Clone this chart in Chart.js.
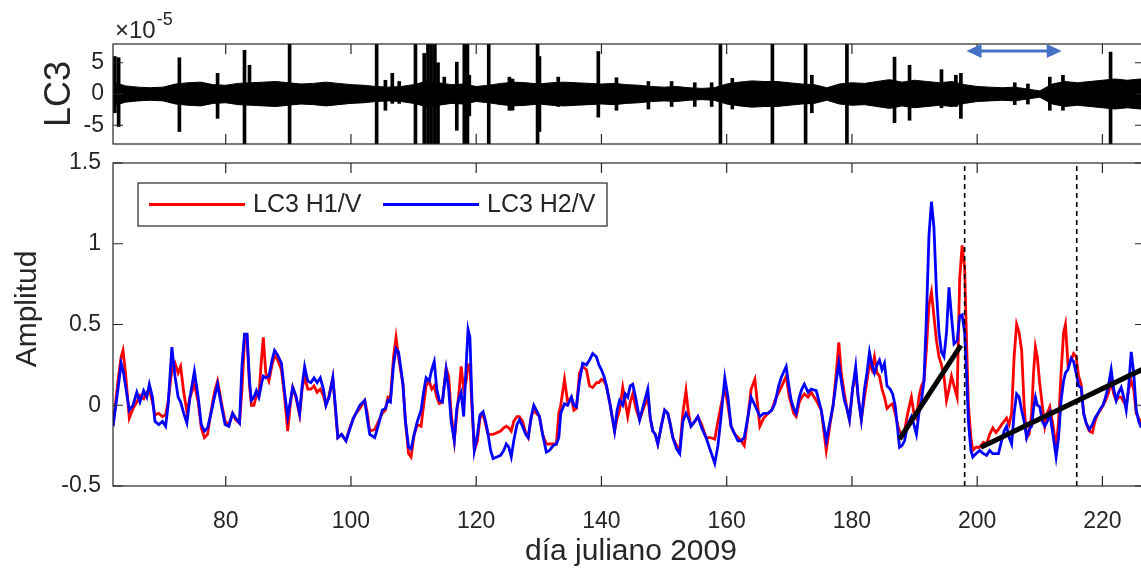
<!DOCTYPE html>
<html>
<head>
<meta charset="utf-8">
<script src="https://cdn.jsdelivr.net/npm/chart.js@4.4.0/dist/chart.umd.min.js"></script>
<style>
html, body { margin: 0; padding: 0; background: #fff; overflow: hidden; width: 1141px; height: 575px; }
#wrap { position: relative; width: 1150px; height: 575px; }
#top { position: absolute; left: 0; top: 0; }
#bottom { position: absolute; left: 0; top: 150px; }
</style>
</head>
<body>
<div id="wrap">
  <canvas id="top" width="1150" height="150"></canvas>
  <canvas id="bottom" width="1150" height="425"></canvas>
</div>
<script>
// axis ranges / ticks
var xMin = 62, xMax = 226.8;
var xTicks = [80, 100, 120, 140, 160, 180, 200, 220];
var lc3Ticks = [-5, 0, 5];
var ampTicks = [-0.5, 0, 0.5, 1, 1.5];

// amplitude ratios (dia juliano 2009)
var days = [62.0, 62.8, 63.3, 63.6, 64.0, 64.6, 65.2, 65.8, 66.3, 66.9,
  67.4, 67.8, 68.3, 68.7, 69.3, 69.9, 70.4, 70.8, 71.4, 71.9,
  72.4, 72.8, 73.3, 73.8, 74.3, 75.0, 75.6, 76.1, 76.6, 77.1,
  77.6, 78.2, 78.7, 79.3, 79.9, 80.5, 81.1, 81.6, 82.2, 82.6,
  83.0, 83.4, 83.8, 84.1, 84.5, 84.9, 85.3, 85.7, 86.0, 86.4,
  86.9, 87.4, 87.8, 88.3, 88.9, 89.4, 89.9, 90.3, 90.7, 91.2,
  91.8, 92.2, 92.6, 93.1, 93.6, 94.1, 94.6, 95.1, 95.6, 96.0,
  96.5, 97.1, 97.5, 97.9, 98.5, 99.2, 99.8, 100.4, 100.8, 101.4,
  102.2, 102.6, 103.0, 103.8, 104.4, 105.0, 105.5, 105.9, 106.3, 106.8,
  107.2, 107.6, 108.0, 108.3, 108.7, 109.2, 109.6, 110.1, 110.6, 111.2,
  111.6, 112.0, 112.5, 112.9, 113.3, 113.7, 114.1, 114.6, 115.2, 115.6,
  116.0, 116.5, 116.9, 117.3, 117.6, 118.0, 118.4, 118.7, 119.0, 119.3,
  119.7, 120.2, 120.6, 121.1, 121.5, 121.9, 122.3, 122.7, 123.3, 123.9,
  124.4, 124.8, 125.2, 125.6, 126.0, 126.5, 126.9, 127.4, 127.9, 128.3,
  128.8, 129.2, 129.6, 130.1, 130.6, 131.2, 131.7, 132.3, 132.8, 133.2,
  133.5, 134.1, 134.6, 135.2, 135.6, 136.0, 136.5, 137.0, 137.6, 138.1,
  138.6, 139.2, 139.6, 140.0, 140.4, 140.8, 141.4, 142.1, 142.5, 142.9,
  143.4, 143.8, 144.2, 144.6, 145.0, 145.5, 146.1, 146.7, 147.4, 147.8,
  148.2, 148.6, 149.0, 149.6, 150.1, 150.6, 151.0, 151.4, 152.0, 152.5,
  153.0, 153.5, 153.9, 154.3, 154.9, 155.4, 156.0, 156.7, 157.4, 158.1,
  158.6, 159.1, 159.7, 160.2, 160.7, 161.3, 161.8, 162.3, 162.8, 163.4,
  163.9, 164.5, 165.3, 165.9, 166.6, 167.2, 167.7, 168.3, 168.7, 169.5,
  170.0, 170.3, 170.7, 171.1, 171.6, 172.0, 172.4, 173.0, 173.5, 174.3,
  175.1, 175.9, 176.5, 177.0, 177.5, 177.9, 178.3, 178.8, 179.2, 179.6,
  180.1, 180.6, 181.0, 181.5, 182.0, 182.4, 182.8, 183.2, 183.6, 184.0,
  184.4, 184.8, 185.2, 185.6, 186.1, 186.5, 186.9, 187.3, 187.6, 188.0,
  188.4, 188.9, 189.5, 189.9, 190.3, 190.7, 191.1, 191.5, 191.9, 192.3,
  192.7, 193.1, 193.5, 193.9, 194.3, 194.7, 195.1, 195.5, 195.9, 196.3,
  196.8, 197.2, 197.6, 198.0, 198.3, 198.6, 199.0, 199.3, 199.8, 200.4,
  201.0, 201.5, 202.0, 202.5, 203.0, 203.4, 203.9, 204.3, 204.7, 205.1,
  205.5, 205.9, 206.3, 206.7, 207.1, 207.5, 207.9, 208.3, 208.7, 209.0,
  209.3, 209.6, 210.0, 210.4, 210.8, 211.2, 211.6, 212.1, 212.6, 213.0,
  213.4, 213.8, 214.1, 214.5, 215.0, 215.4, 215.8, 216.2, 216.6, 217.0,
  217.4, 217.9, 218.4, 218.8, 219.3, 219.7, 220.1, 220.5, 221.0, 221.4,
  221.8, 222.2, 222.6, 223.0, 223.4, 223.8, 224.2, 224.6, 225.0, 225.4,
  225.8, 226.1, 226.5];

var h1v = [-0.13, 0.15, 0.30, 0.34, 0.20, -0.08, -0.02, 0.02, 0.06, 0.04,
  0.08, 0.10, 0.02, -0.06, -0.05, -0.07, -0.06, 0.02, 0.22, 0.26,
  0.20, 0.24, 0.08, -0.04, 0.05, 0.13, 0.02, -0.14, -0.20, -0.18,
  -0.05, 0.08, 0.15, 0.02, -0.10, -0.12, -0.05, -0.09, -0.11, 0.10,
  0.40, 0.42, 0.12, 0.00, 0.00, 0.06, 0.06, 0.28, 0.42, 0.20,
  0.15, 0.25, 0.31, 0.28, 0.22, 0.05, -0.16, 0.00, 0.11, 0.05,
  -0.06, 0.10, 0.18, 0.10, 0.10, 0.12, 0.08, 0.10, 0.06, 0.00,
  0.06, 0.17, -0.02, -0.20, -0.18, -0.22, -0.14, -0.08, -0.05, -0.02,
  0.03, -0.05, -0.16, -0.15, -0.10, -0.05, -0.03, 0.05, 0.04, 0.30,
  0.42, 0.30, 0.20, 0.13, -0.10, -0.30, -0.32, -0.18, -0.12, -0.13,
  0.00, 0.12, 0.15, 0.10, 0.12, 0.05, 0.01, 0.02, 0.23, 0.18,
  -0.05, -0.22, -0.05, 0.10, 0.24, 0.10, 0.15, 0.25, 0.25, 0.00,
  -0.28, -0.22, -0.08, -0.05, -0.12, -0.18, -0.18, -0.18, -0.17, -0.16,
  -0.14, -0.13, -0.14, -0.16, -0.10, -0.07, -0.07, -0.10, -0.17, -0.20,
  -0.07, -0.03, -0.05, -0.07, -0.18, -0.24, -0.24, -0.24, -0.24, -0.05,
  0.00, 0.16, 0.02, 0.05, -0.03, -0.02, 0.20, 0.24, 0.22, 0.12,
  0.11, 0.14, 0.14, 0.16, 0.15, 0.12, 0.00, -0.16, -0.08, -0.03,
  0.11, 0.02, -0.07, 0.02, 0.07, -0.02, -0.09, -0.02, 0.05, -0.08,
  -0.16, -0.18, -0.24, -0.12, -0.03, -0.05, -0.12, -0.20, -0.25, -0.28,
  -0.05, 0.09, -0.05, -0.13, -0.10, -0.07, -0.12, -0.20, -0.20, -0.21,
  -0.10, 0.00, 0.11, 0.00, -0.13, -0.18, -0.20, -0.22, -0.25, -0.07,
  0.10, 0.16, -0.13, -0.08, -0.05, -0.03, 0.03, 0.08, 0.11, 0.18,
  0.05, 0.01, -0.05, -0.07, 0.02, 0.05, 0.07, 0.05, 0.08, 0.03,
  -0.03, -0.28, -0.12, 0.00, 0.20, 0.39, 0.20, 0.07, -0.02, -0.09,
  0.10, 0.20, 0.05, -0.09, 0.05, 0.15, 0.26, 0.22, 0.30, 0.20,
  0.18, 0.10, 0.05, -0.02, 0.00, 0.01, -0.05, -0.12, -0.16, -0.18,
  -0.16, -0.05, 0.05, -0.05, -0.08, 0.05, 0.12, 0.15, 0.35, 0.62,
  0.70, 0.55, 0.40, 0.30, 0.25, 0.18, 0.03, 0.10, 0.18, 0.12,
  0.05, 0.78, 0.99, 0.85, 0.40, 0.00, -0.20, -0.28, -0.26, -0.26,
  -0.23, -0.24, -0.18, -0.14, -0.17, -0.15, -0.12, -0.10, -0.08, -0.12,
  -0.05, 0.30, 0.50, 0.45, 0.34, 0.00, -0.20, -0.18, -0.05, 0.20,
  0.36, 0.30, 0.13, 0.00, -0.13, -0.05, -0.01, -0.12, -0.26, -0.10,
  0.20, 0.45, 0.50, 0.25, 0.28, 0.32, 0.30, 0.18, 0.13, -0.05,
  -0.11, -0.16, -0.17, -0.10, -0.05, -0.03, 0.00, 0.03, 0.08, 0.15,
  0.07, 0.03, 0.05, 0.05, 0.02, 0.00, 0.10, 0.15, 0.10, -0.05,
  -0.08, -0.10, -0.10];

var h2v = [-0.13, 0.10, 0.26, 0.22, 0.12, -0.03, 0.00, 0.08, 0.02, 0.09,
  0.05, 0.13, 0.05, -0.10, -0.12, -0.10, -0.13, 0.00, 0.36, 0.18,
  0.05, 0.02, -0.05, -0.11, 0.05, 0.21, 0.05, -0.12, -0.16, -0.14,
  -0.06, 0.05, 0.13, 0.00, -0.12, -0.13, -0.05, -0.08, -0.11, 0.25,
  0.44, 0.44, 0.15, 0.03, 0.05, 0.09, 0.05, 0.13, 0.18, 0.17,
  0.18, 0.28, 0.34, 0.31, 0.26, 0.08, -0.07, 0.02, 0.11, 0.06,
  -0.05, 0.12, 0.24, 0.15, 0.14, 0.17, 0.14, 0.17, 0.10, 0.00,
  0.05, 0.17, 0.00, -0.20, -0.18, -0.22, -0.15, -0.08, -0.05, 0.00,
  0.03, -0.08, -0.18, -0.20, -0.12, -0.03, -0.02, 0.03, 0.02, 0.25,
  0.35, 0.33, 0.22, 0.13, -0.10, -0.26, -0.27, -0.18, -0.10, -0.03,
  0.08, 0.17, 0.15, 0.22, 0.27, 0.10, 0.03, 0.02, 0.22, 0.10,
  -0.10, -0.22, -0.02, 0.05, 0.08, -0.07, 0.25, 0.47, 0.42, 0.05,
  -0.28, -0.18, -0.06, -0.04, -0.10, -0.18, -0.28, -0.33, -0.32, -0.31,
  -0.28, -0.24, -0.26, -0.32, -0.22, -0.12, -0.09, -0.13, -0.18, -0.20,
  -0.07, 0.00, -0.03, -0.07, -0.18, -0.29, -0.28, -0.25, -0.24, -0.20,
  -0.05, 0.01, 0.00, 0.05, 0.00, -0.01, 0.15, 0.26, 0.25, 0.28,
  0.32, 0.30, 0.25, 0.22, 0.18, 0.12, 0.00, -0.16, -0.03, 0.03,
  0.00, 0.07, 0.05, 0.12, 0.13, 0.04, -0.09, 0.00, 0.10, -0.08,
  -0.16, -0.18, -0.24, -0.12, -0.03, -0.05, -0.12, -0.20, -0.27, -0.30,
  -0.10, -0.05, -0.08, -0.13, -0.10, -0.07, -0.14, -0.20, -0.28, -0.36,
  -0.25, -0.07, 0.17, 0.05, -0.13, -0.18, -0.22, -0.22, -0.20, -0.07,
  0.05, 0.00, -0.07, -0.05, -0.05, -0.03, 0.01, 0.12, 0.17, 0.24,
  0.10, 0.03, -0.02, -0.05, 0.05, 0.10, 0.13, 0.08, 0.10, 0.09,
  -0.03, -0.22, -0.10, 0.00, 0.15, 0.26, 0.15, 0.03, -0.02, -0.09,
  0.10, 0.24, 0.05, -0.09, 0.10, 0.20, 0.33, 0.25, 0.20, 0.25,
  0.28, 0.22, 0.26, 0.12, 0.10, 0.07, 0.00, -0.15, -0.26, -0.25,
  -0.22, -0.12, -0.07, -0.12, -0.18, -0.05, 0.03, 0.15, 0.55, 1.05,
  1.26, 1.10, 0.70, 0.45, 0.33, 0.30, 0.45, 0.73, 0.55, 0.38,
  0.40, 0.55, 0.56, 0.45, 0.20, -0.10, -0.28, -0.32, -0.30, -0.28,
  -0.30, -0.31, -0.28, -0.30, -0.30, -0.30, -0.22, -0.16, -0.13, -0.20,
  -0.24, -0.05, 0.07, 0.05, -0.03, -0.10, -0.20, -0.15, -0.13, -0.02,
  0.05, 0.00, -0.01, -0.10, -0.13, -0.10, -0.05, -0.18, -0.32, -0.20,
  0.03, 0.15, 0.20, 0.22, 0.29, 0.27, 0.20, 0.12, 0.11, -0.05,
  -0.11, -0.15, -0.12, -0.08, -0.05, -0.02, 0.00, 0.05, 0.13, 0.22,
  0.10, 0.03, 0.08, 0.11, 0.05, -0.03, 0.12, 0.33, 0.20, -0.03,
  -0.10, -0.13, -0.13];

// trend lines and event markers
var fit1Days = [187.6, 197.4];
var fit1Amp = [-0.21, 0.37];
var fit2Days = [200.6, 226.8];
var fit2Amp = [-0.26, 0.23];
var eventDays = [198.0, 215.9];

// LC3 trace (x1e-5): envelope and spikes
var envDays = [62, 64, 66, 68, 70, 72, 74, 76, 78, 80,
  82, 84, 86, 88, 90, 92, 94, 96, 98, 100,
  102, 104, 106, 108, 110, 112, 114, 116, 118, 120,
  122, 124, 126, 128, 130, 132, 134, 136, 138, 140,
  142, 144, 146, 148, 150, 152, 154, 156, 158, 160,
  162, 164, 166, 168, 170, 172, 174, 176, 178, 180,
  182, 184, 186, 188, 190, 192, 194, 196, 198, 200,
  202, 204, 206, 208, 210, 212, 214, 216, 218, 220,
  222, 224, 226, 227];
var envAmp = [1.9, 1.3, 1.1, 1.0, 1.1, 1.6, 1.8, 1.9, 1.5, 1.4,
  1.7, 1.8, 1.9, 2.0, 1.8, 1.6, 1.7, 1.9, 1.7, 1.5,
  1.4, 1.2, 1.1, 1.2, 1.5, 2.0, 1.8, 1.5, 1.6, 1.2,
  1.4, 1.7, 1.9, 1.8, 1.6, 1.8, 1.9, 1.8, 1.7, 1.6,
  1.7, 1.5, 1.4, 1.2, 1.1, 1.2, 1.0, 0.9, 1.0, 1.6,
  1.9, 2.1, 2.0, 2.0, 1.8, 1.6, 1.5, 1.0, 1.6, 1.8,
  1.7, 2.0, 2.3, 1.9, 2.2, 2.0, 1.8, 2.0, 1.5, 1.2,
  1.1, 1.0, 1.1, 0.8, 0.5, 1.6, 2.0, 1.8, 2.0, 2.2,
  2.4, 2.2, 2.4, 2.3];
var spikeDays = [62.3, 62.9, 72.6, 78.7, 83.0, 83.8, 90.2, 104.1, 105.5, 106.6,
  107.7, 110.3, 111.7, 112.3, 112.8, 113.4, 113.9, 114.9, 116.9, 118.1,
  118.6, 118.9, 122.0, 125.3, 125.8, 129.8, 130.1, 133.1, 139.5, 142.4,
  147.5, 151.2, 154.9, 157.6, 159.0, 160.9, 167.3, 172.6, 173.6, 179.2,
  186.8, 189.2, 194.3, 196.6, 197.4, 206.0, 208.1, 211.6, 213.7, 221.3];
var spikeTop = [6.0, 5.8, 5.8, 3.3, 7.0, 4.6, 9, 9, 2.2, 3.3,
  2.0, 9, 6.5, 9, 9, 9, 5.0, 2.7, 5.1, 9,
  9, 3.0, 9, 2.7, 2.4, 9, 6.0, 2.7, 6.8, 2.6,
  2.0, 2.0, 1.8, 1.8, 9, 2.5, 9, 9, 3.0, 9,
  5.9, 4.6, 3.9, 3.0, 3.3, 1.8, 1.6, 2.7, 3.0, 6.7];
var spikeBottom = [-3.0, -5.2, -6.0, -3.9, -9, -1.5, -9, -9, -2.6, -1.5,
  -1.5, -9, -9, -9, -9, -9, -9, -0.8, -5.8, -9,
  -9, -3.5, -9, -2.6, -2.6, -9, -6.0, -2.0, -3.7, -2.6,
  -2.4, -2.0, -2.0, -2.0, -9, -2.4, -9, -9, -3.0, -9,
  -4.6, -4.2, -2.2, -2.0, -3.9, -1.7, -1.6, -2.6, -2.6, -9];
var arrowDays = [198.3, 213.5];
var arrowLevel = 6.9;

var textColor = '#262626';
var fontFamily = "'Liberation Sans', Arial, Helvetica, sans-serif";
Chart.defaults.font.family = fontFamily;
Chart.defaults.color = textColor;

function pts(xs, ys) {
    return xs.map(function(x, i) { return {x: x, y: ys[i]}; });
}

function noPadding(s) {
    s.paddingTop = 0;
    s.paddingBottom = 0;
    s.paddingLeft = 0;
    s.paddingRight = 0;
}

// box with inward ticks on all four sides (matlab style)
var boxPlugin = {
    id: 'box',
    afterDraw: function(chart, args, opts) {
        var ctx = chart.ctx, a = chart.chartArea;
        var sx = chart.scales.x, sy = chart.scales.y;
        ctx.save();
        ctx.strokeStyle = textColor;
        ctx.lineWidth = 1.2;
        ctx.beginPath();
        opts.xTicks.forEach(function(v) {
            var px = sx.getPixelForValue(v);
            ctx.moveTo(px, a.bottom); ctx.lineTo(px, a.bottom - 10);
            ctx.moveTo(px, a.top); ctx.lineTo(px, a.top + 10);
        });
        opts.yTicks.forEach(function(v) {
            var py = sy.getPixelForValue(v);
            ctx.moveTo(a.left, py); ctx.lineTo(a.left + 10, py);
            ctx.moveTo(a.right, py); ctx.lineTo(a.right - 10, py);
        });
        ctx.stroke();
        ctx.strokeRect(a.left, a.top, a.right - a.left, a.bottom - a.top);
        ctx.restore();
    }
};

var topTextPlugin = {
    id: 'topText',
    afterDraw: function(chart) {
        var ctx = chart.ctx, a = chart.chartArea;
        var sx = chart.scales.x, sy = chart.scales.y;
        ctx.save();
        ctx.fillStyle = textColor;
        // y label
        ctx.translate(60, (a.top + a.bottom) / 2);
        ctx.rotate(-Math.PI / 2);
        ctx.font = '36px ' + fontFamily;
        ctx.textAlign = 'center';
        ctx.textBaseline = 'middle';
        ctx.fillText('LC3', 0, 0);
        ctx.restore();

        ctx.save();
        ctx.fillStyle = textColor;
        ctx.textBaseline = 'alphabetic';
        ctx.textAlign = 'left';
        ctx.font = '24px ' + fontFamily;
        ctx.fillText('\u00d710', a.left + 2, a.top - 6);
        var w = ctx.measureText('\u00d710').width;
        ctx.font = '18px ' + fontFamily;
        ctx.fillText('-5', a.left + 3 + w, a.top - 19);
        ctx.restore();

        // blue double arrow
        var x1 = sx.getPixelForValue(arrowDays[0]);
        var x2 = sx.getPixelForValue(arrowDays[1]);
        var y = sy.getPixelForValue(arrowLevel);
        ctx.save();
        ctx.strokeStyle = '#4472c4';
        ctx.fillStyle = '#4472c4';
        ctx.lineWidth = 3;
        ctx.beginPath();
        ctx.moveTo(x1 + 10, y); ctx.lineTo(x2 - 10, y);
        ctx.stroke();
        ctx.beginPath();
        ctx.moveTo(x1, y); ctx.lineTo(x1 + 15, y - 7); ctx.lineTo(x1 + 15, y + 7); ctx.closePath();
        ctx.moveTo(x2, y); ctx.lineTo(x2 - 15, y - 7); ctx.lineTo(x2 - 15, y + 7); ctx.closePath();
        ctx.fill();
        ctx.restore();
    }
};

var bottomTextPlugin = {
    id: 'bottomText',
    afterDraw: function(chart) {
        var ctx = chart.ctx, a = chart.chartArea;
        var ds = chart.data.datasets;
        ctx.save();
        ctx.fillStyle = textColor;
        ctx.font = '30px ' + fontFamily;
        ctx.textAlign = 'center';
        ctx.textBaseline = 'middle';
        ctx.fillText('d\u00eda juliano 2009', (a.left + a.right) / 2 + 2, a.bottom + 66);
        ctx.translate(28, a.top + 146);
        ctx.rotate(-Math.PI / 2);
        ctx.fillText('Amplitud', 0, 0);
        ctx.restore();

        // legend
        var lx = a.left + 25, ly = a.top + 20, lw = 469, lh = 43;
        ctx.save();
        ctx.fillStyle = '#fff';
        ctx.fillRect(lx, ly, lw, lh);
        ctx.strokeStyle = textColor;
        ctx.lineWidth = 1.2;
        ctx.strokeRect(lx, ly, lw, lh);
        var cy = ly + lh / 2;
        var starts = [lx + 11, lx + 245];
        ctx.font = '25px ' + fontFamily;
        ctx.textBaseline = 'middle';
        ctx.textAlign = 'left';
        for (var i = 0; i < 2; i++) {
            ctx.strokeStyle = ds[i].borderColor;
            ctx.lineWidth = 2.8;
            ctx.beginPath();
            ctx.moveTo(starts[i], cy); ctx.lineTo(starts[i] + 96, cy);
            ctx.stroke();
            ctx.fillStyle = textColor;
            ctx.fillText(ds[i].label, starts[i] + 104, cy + 1);
        }
        ctx.restore();
    }
};

// top panel: LC3 trace
new Chart(document.getElementById('top'), {
    type: 'line',
    data: {
        datasets: [
            {
                type: 'bar',
                label: 'picos',
                data: spikeDays.map(function(d, i) { return {x: d, y: [spikeBottom[i], spikeTop[i]]}; }),
                backgroundColor: '#000',
                barThickness: 3,
                grouped: false
            },
            {
                label: 'env+',
                data: pts(envDays, envAmp),
                borderColor: '#000',
                backgroundColor: '#000',
                borderWidth: 1,
                fill: '+1'
            },
            {
                label: 'env-',
                data: pts(envDays, envAmp.map(function(v) { return -v; })),
                borderColor: '#000',
                borderWidth: 1,
                fill: false
            }
        ]
    },
    options: {
        responsive: false,
        animation: false,
        layout: { padding: { top: 44, right: 5, bottom: 6, left: 0 } },
        elements: { point: { radius: 0 } },
        plugins: {
            legend: { display: false },
            tooltip: { enabled: false },
            box: { xTicks: xTicks, yTicks: lc3Ticks }
        },
        scales: {
            x: {
                type: 'linear', min: xMin, max: xMax, offset: false,
                grid: { display: false, drawTicks: false, offset: false },
                border: { display: false },
                ticks: { display: false },
                afterFit: function(s) { s.height = 0; noPadding(s); }
            },
            y: {
                min: -8, max: 8,
                grid: { display: false, drawTicks: false },
                border: { display: false },
                ticks: {
                    font: { size: 23 }, padding: 9, color: textColor,
                    callback: function(v) { return String(v); }
                },
                afterBuildTicks: function(s) { s.ticks = lc3Ticks.map(function(v) { return {value: v}; }); },
                afterFit: function(s) { s.width = 113; noPadding(s); }
            }
        }
    },
    plugins: [boxPlugin, topTextPlugin]
});

// bottom panel: H/V amplitudes
new Chart(document.getElementById('bottom'), {
    type: 'line',
    data: {
        datasets: [
            { label: 'LC3 H1/V', data: pts(days, h1v), borderColor: '#ff0000', borderWidth: 2.8, order: 2 },
            { label: 'LC3 H2/V', data: pts(days, h2v), borderColor: '#0000ff', borderWidth: 2.8, order: 1 },
            { label: 'tendencia 1', data: pts(fit1Days, fit1Amp), borderColor: '#000', borderWidth: 5, order: 0 },
            { label: 'tendencia 2', data: pts(fit2Days, fit2Amp), borderColor: '#000', borderWidth: 5, order: 0 },
            {
                label: 'evento 1',
                data: [{x: eventDays[0], y: ampTicks[0]}, {x: eventDays[0], y: ampTicks[ampTicks.length - 1]}],
                borderColor: '#000', borderWidth: 1.6, borderDash: [5, 4], order: 0
            },
            {
                label: 'evento 2',
                data: [{x: eventDays[1], y: ampTicks[0]}, {x: eventDays[1], y: ampTicks[ampTicks.length - 1]}],
                borderColor: '#000', borderWidth: 1.6, borderDash: [5, 4], order: 0
            }
        ]
    },
    options: {
        responsive: false,
        animation: false,
        layout: { padding: { top: 13, right: 5, bottom: 0, left: 0 } },
        elements: { point: { radius: 0 }, line: { tension: 0 } },
        plugins: {
            legend: { display: false },
            tooltip: { enabled: false },
            box: { xTicks: xTicks, yTicks: ampTicks }
        },
        scales: {
            x: {
                type: 'linear', min: xMin, max: xMax, offset: false,
                grid: { display: false, drawTicks: false },
                border: { display: false },
                ticks: {
                    font: { size: 23 }, padding: 22, color: textColor, maxRotation: 0, autoSkip: false,
                    callback: function(v) { return String(v); }
                },
                afterBuildTicks: function(s) { s.ticks = xTicks.map(function(v) { return {value: v}; }); },
                afterFit: function(s) { s.height = 89; noPadding(s); }
            },
            y: {
                min: -0.5, max: 1.5,
                grid: { display: false, drawTicks: false },
                border: { display: false },
                ticks: {
                    font: { size: 23 }, padding: 12, color: textColor,
                    callback: function(v) { return String(v); }
                },
                afterBuildTicks: function(s) { s.ticks = ampTicks.map(function(v) { return {value: v}; }); },
                afterFit: function(s) { s.width = 113; noPadding(s); }
            }
        }
    },
    plugins: [boxPlugin, bottomTextPlugin]
});
</script>
</body>
</html>
